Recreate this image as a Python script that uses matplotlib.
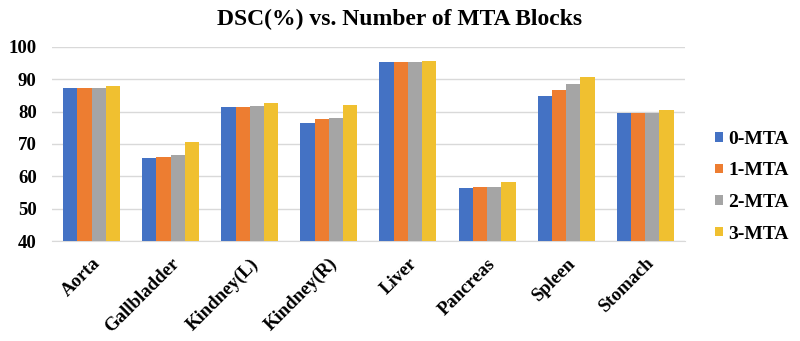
import numpy as np
import matplotlib.pyplot as plt

plt.rcParams['font.family'] = ['Liberation Serif', 'DejaVu Serif']

organs = ['Aorta', 'Gallbladder', 'Kindney(L)', 'Kindney(R)', 'Liver', 'Pancreas', 'Spleen', 'Stomach']
mta0 = [87.4, 65.6, 81.5, 76.6, 95.2, 56.5, 84.7, 79.4]
mta1 = [87.4, 66.1, 81.5, 77.6, 95.4, 56.6, 86.7, 79.5]
mta2 = [87.4, 66.7, 81.6, 78.1, 95.4, 56.6, 88.5, 79.5]
mta3 = [88.0, 70.7, 82.5, 82.0, 95.6, 58.2, 90.6, 80.5]
series = {'0-MTA': mta0, '1-MTA': mta1, '2-MTA': mta2, '3-MTA': mta3}
colors = ['#4472C4', '#ED7D31', '#A5A5A5', '#F0C030']

fig = plt.figure(figsize=(8, 3.41), dpi=100)
ax = fig.add_axes([0.065, 0.293, 0.791, 0.57])

x = np.arange(len(organs))
w = 0.18
for i, (name, vals) in enumerate(series.items()):
    ax.bar(x + (i - 1.5) * w, np.array(vals) - 40, w, bottom=40,
           color=colors[i], label=name, zorder=3)

ax.set_xlim(-0.5, len(organs) - 0.5)
ax.set_ylim(40, 100)
ax.set_yticks(range(40, 101, 10))
ax.set_xticks(x)
ax.set_xticklabels(organs, rotation=45, ha='right', rotation_mode='anchor',
                   fontweight='bold', fontsize=13.5)
for lab in ax.get_yticklabels():
    lab.set_fontweight('bold')
    lab.set_fontsize(13.5)
ax.tick_params(axis='x', length=0, pad=10)
ax.tick_params(axis='y', length=0, pad=11)
ax.yaxis.grid(True, color='#D9D9D9', linewidth=1, zorder=0)
for s in ['top', 'right', 'left']:
    ax.spines[s].set_visible(False)
ax.spines['bottom'].set_color('#D9D9D9')

fig.suptitle('DSC(%) vs. Number of MTA Blocks', fontsize=17, fontweight='bold', y=0.975)

ax.legend(loc='center left', bbox_to_anchor=(1.02, 0.28), frameon=False,
          prop={'weight': 'bold', 'size': 14}, handlelength=0.4, handleheight=0.4,
          handletextpad=0.3, labelspacing=0.75)

fig.savefig('out.png', dpi=100)
